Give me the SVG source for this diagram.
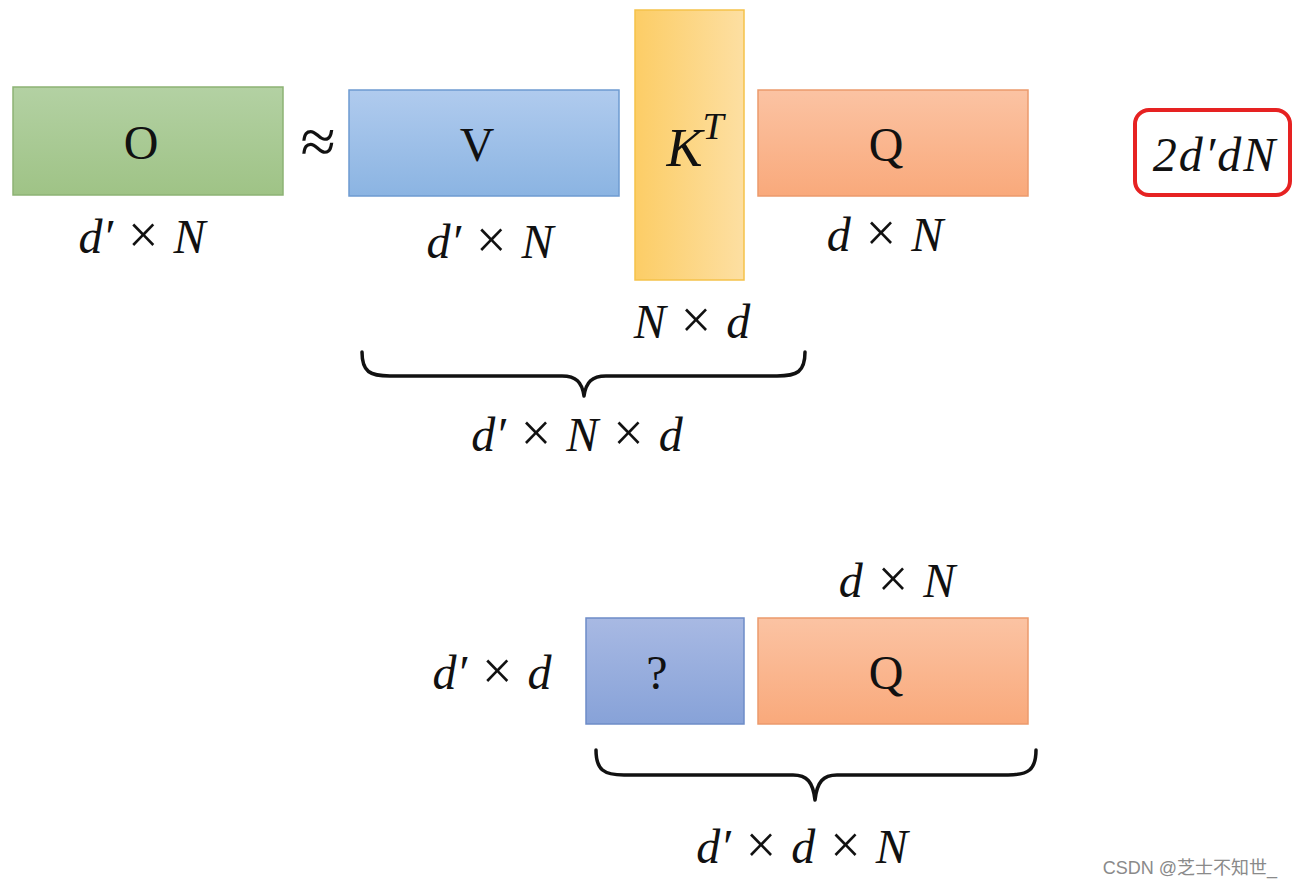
<svg xmlns="http://www.w3.org/2000/svg" width="1297" height="886" viewBox="0 0 1297 886">
<defs>
<linearGradient id="gG" x1="0" y1="0" x2="0" y2="1"><stop offset="0" stop-color="#b3d1a3"/><stop offset="1" stop-color="#9fc386"/></linearGradient>
<linearGradient id="gB" x1="0" y1="0" x2="0" y2="1"><stop offset="0" stop-color="#b0cbee"/><stop offset="1" stop-color="#8bb4e2"/></linearGradient>
<linearGradient id="gY" x1="0" y1="0" x2="1" y2="0"><stop offset="0" stop-color="#fccd66"/><stop offset="1" stop-color="#fddfa2"/></linearGradient>
<linearGradient id="gO" x1="0" y1="0" x2="0" y2="1"><stop offset="0" stop-color="#fbc3a3"/><stop offset="1" stop-color="#f9a97b"/></linearGradient>
<linearGradient id="gP" x1="0" y1="0" x2="0" y2="1"><stop offset="0" stop-color="#a8b9e3"/><stop offset="1" stop-color="#87a2d8"/></linearGradient>
<style>
.box{stroke-width:1.5}
.lbl{font-family:"Liberation Serif","DejaVu Serif",serif;font-size:48px;fill:#111;text-anchor:middle}
.math{font-family:"Liberation Serif","DejaVu Serif",serif;font-style:italic;font-size:48px;fill:#111;text-anchor:middle;word-spacing:3px}
.x{font-style:normal;font-size:54px}
.brace{fill:none;stroke:#111;stroke-width:3.5;stroke-linecap:round;stroke-linejoin:round}
</style>
</defs>
<rect width="1297" height="886" fill="#ffffff"/>
<g id="node-O">
<rect class="box" x="13" y="87" width="270" height="108" fill="url(#gG)" stroke="#8db374"/>
<text class="lbl" x="141" y="159">O</text>
<text class="math" x="142" y="253">d′ <tspan class="x">×</tspan> N</text>
</g>
<g id="approx"><text class="lbl" x="318" y="163" style="font-size:64px">≈</text></g>
<g id="node-V">
<rect class="box" x="349" y="90" width="270" height="106" fill="url(#gB)" stroke="#6e9bd1"/>
<text class="lbl" x="477" y="161">V</text>
<text class="math" x="490" y="258">d′ <tspan class="x">×</tspan> N</text>
</g>
<g id="node-KT">
<rect class="box" x="635" y="10" width="109" height="270" fill="url(#gY)" stroke="#f5c24a"/>
<text class="math" x="695" y="166" style="font-size:54px">K<tspan style="font-size:38px" dy="-27">T</tspan></text>
<text class="math" x="692" y="338">N <tspan class="x">×</tspan> d</text>
</g>
<g id="node-Q1">
<rect class="box" x="758" y="90" width="270" height="106" fill="url(#gO)" stroke="#eb9a6c"/>
<text class="lbl" x="886" y="161">Q</text>
<text class="math" x="885" y="251">d <tspan class="x">×</tspan> N</text>
</g>
<g id="node-cost">
<rect x="1135" y="110" width="155" height="85" rx="14" fill="#ffffff" stroke="#e62222" stroke-width="4"/>
<text class="math" x="1215" y="171" letter-spacing="2">2d′dN</text>
</g>
<g id="node-P">
<rect class="box" x="586" y="618" width="158" height="106" fill="url(#gP)" stroke="#6e8cc7"/>
<text class="lbl" x="657" y="689">?</text>
<text class="math" x="492" y="689">d′ <tspan class="x">×</tspan> d</text>
</g>
<g id="node-Q2">
<rect class="box" x="758" y="618" width="270" height="106" fill="url(#gO)" stroke="#eb9a6c"/>
<text class="lbl" x="886" y="689">Q</text>
<text class="math" x="897" y="597">d <tspan class="x">×</tspan> N</text>
</g>
<g id="connectors">
<path class="brace" d="M362,352 C362,372 370,376 390,376 L562,376 C576,376 582,382 584,396 C586,382 592,376 606,376 L777,376 C797,376 805,372 805,352"/>
<path class="brace" d="M596,750 C596,770 604,775 624,775 L793,775 C807,775 813,782 815,800 C817,782 823,775 837,775 L1008,775 C1028,775 1036,770 1036,750"/>
</g>
<g id="brace-labels">
<text class="math" x="577" y="451">d′ <tspan class="x">×</tspan> N <tspan class="x">×</tspan> d</text>
<text class="math" x="802" y="863">d′ <tspan class="x">×</tspan> d <tspan class="x">×</tspan> N</text>
</g>
<text x="1190" y="874" font-family="Liberation Sans,'Noto Sans CJK SC',sans-serif" font-size="18" fill="#8a8a8a" text-anchor="middle">CSDN @芝士不知世_</text>
</svg>
